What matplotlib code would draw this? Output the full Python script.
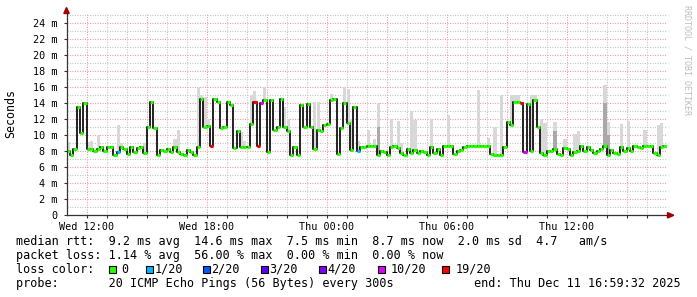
import matplotlib
matplotlib.use('Agg')
import matplotlib.pyplot as plt
from matplotlib.collections import LineCollection
from matplotlib.patches import Rectangle, Polygon

W, H = 697, 297

# ---------------- data ----------------
# median rtt (ms), one value per 10 minutes, starting Wed 11:00
median_ms = [
    8.0, 7.5, 8.3, 13.6, 10.3, 14.0, 8.3, 8.3, 8.1, 8.3,
    8.6, 8.1, 8.6, 8.6, 7.6, 7.9, 8.5, 8.3, 7.7, 8.6,
    7.9, 8.4, 8.6, 7.8, 11.1, 14.2, 10.9, 7.6, 8.2, 8.0,
    8.3, 7.9, 8.5, 7.9, 7.7, 7.5, 8.2, 7.9, 7.5, 8.5,
    14.5, 11.1, 11.2, 8.7, 14.5, 14.2, 10.9, 11.1, 14.2, 13.8,
    8.4, 10.5, 8.6, 8.6, 8.6, 11.4, 14.2, 8.7, 14.1, 14.4,
    7.9, 14.4, 10.7, 11.0, 14.5, 11.0, 10.5, 7.6, 8.5, 7.6,
    13.8, 11.1, 13.9, 11.1, 8.3, 10.7, 10.6, 11.3, 11.4, 14.4,
    14.5, 7.7, 10.9, 14.0, 11.5, 8.2, 13.6, 8.1, 8.6, 8.6,
    8.7, 8.7, 8.7, 7.6, 8.1, 7.9, 7.5, 8.5, 8.7, 8.4,
    7.8, 7.6, 8.3, 7.8, 8.2, 7.8, 8.1, 7.9, 7.6, 8.5,
    7.8, 8.3, 7.6, 8.7, 8.7, 8.7, 7.7, 8.0, 8.2, 8.5,
    8.7, 8.7, 8.7, 8.7, 8.7, 8.7, 8.7, 7.7, 7.6, 7.5,
    7.6, 8.6, 11.7, 11.3, 14.2, 14.2, 14.0, 7.9, 13.9, 8.0,
    14.4, 11.1, 7.8, 7.6, 8.0, 8.0, 8.3, 7.7, 7.5, 8.4,
    8.3, 7.6, 7.9, 8.0, 8.7, 8.1, 8.5, 8.2, 7.8, 8.1,
    8.3, 8.7, 7.6, 8.2, 7.8, 7.7, 8.5, 8.1, 8.4, 8.0,
    8.7, 8.6, 8.4, 8.7, 8.7, 8.7, 7.8, 7.6, 8.6, 8.7,
]
# top of the light smoke (max ping, ms) where visible: sample index -> value
smoke_max_ms = {
    0: 9.2, 6: 9.2, 7: 9.3, 9: 10.0, 15: 11.3, 16: 9.0, 23: 9.1,
    32: 9.5, 33: 10.7, 39: 16.0, 40: 15.0, 41: 14.8, 42: 12.0,
    52: 10.4, 53: 9.3, 55: 15.0, 56: 15.5, 59: 16.1, 65: 13.6, 66: 12.1,
    74: 14.2, 75: 14.2, 79: 15.2, 83: 16.1, 84: 15.8, 85: 12.1, 87: 9.3,
    90: 10.7, 92: 9.5, 93: 14.0, 97: 12.0, 99: 11.8, 100: 9.0,
    103: 13.0, 104: 11.9, 109: 12.1, 114: 12.5,
    123: 15.7, 126: 9.7, 128: 11.0, 130: 15.1, 133: 15.0, 134: 15.0,
    135: 15.0, 139: 15.0, 140: 15.0, 142: 12.1, 143: 11.6, 146: 11.7,
    149: 9.6, 152: 10.2, 153: 10.6, 161: 16.3, 162: 11.7, 166: 11.4,
    168: 11.8, 173: 10.7, 177: 11.3, 178: 11.5,
}
# darker inner smoke where visible
smoke_dark_ms = {93: 11.0, 146: 10.5, 161: 14.0, 162: 10.0}
# lost pings (out of 20) where not zero
loss_events = {15: 1, 43: 19, 56: 19, 57: 19, 58: 10, 87: 1, 136: 19, 137: 10}

loss_buckets = [0, 1, 2, 3, 4, 10, 19]
loss_labels = ['0', '1/20', '2/20', '3/20', '4/20', '10/20', '19/20']
loss_colors = ['#26ff00', '#00b8ff', '#0059ff', '#5e00ff', '#7e00ff', '#dd00ff', '#ff0000']

xtick_hours = [1, 7, 13, 19, 25]
xtick_labels = ['Wed 12:00', 'Wed 18:00', 'Thu 00:00', 'Thu 06:00', 'Thu 12:00']
ytick_vals = list(range(0, 25, 2))
ytick_labels = ['0'] + ['%d m' % v for v in range(2, 25, 2)]

row_rtt = "median rtt:  9.2 ms avg  14.6 ms max  7.5 ms min  8.7 ms now  2.0 ms sd  4.7   am/s"
row_loss = "packet loss: 1.14 % avg  56.00 % max  0.00 % min  0.00 % now"
row_color = "loss color:"
row_probe = "probe:       20 ICMP Echo Pings (56 Bytes) every 300s"
row_end = "end: Thu Dec 11 16:59:32 2025"

STEP = 1.0 / 6.0  # hours per sample
MONO = 'DejaVu Sans Mono'

# ---------------- figure ----------------
fig = plt.figure(figsize=(W / 100, H / 100), dpi=100)
fig.patch.set_facecolor('white')

def fx(x):
    return x / W

def fy(y):
    return 1 - y / H

ax_left, ax_right, ax_bottom, ax_top = 66.5, 666.5, 215.3, 12.9
ax = fig.add_axes([fx(ax_left), fy(ax_bottom), (ax_right - ax_left) / W, (ax_bottom - ax_top) / H])
ax.set_xlim(0, 30)
ax.set_ylim(0, 25.3)
ax.set_facecolor('white')

# grid
ax.set_yticks(ytick_vals)
ax.set_yticklabels(ytick_labels, family=MONO, fontsize=7.3)
ax.set_yticks(list(range(1, 26, 2)), minor=True)
maj_x = list(range(1, 30, 3))
ax.set_xticks(maj_x)
ax.set_xticklabels([xtick_labels[xtick_hours.index(h)] if h in xtick_hours else '' for h in maj_x],
                   family=MONO, fontsize=7.3)
ax.set_xticks([h for h in range(1, 30) if h not in maj_x], minor=True)
dot = (0, (1, 1.4))
ax.grid(which='major', color='#f09a9a', linestyle=dot, linewidth=0.75, zorder=0)
ax.grid(which='minor', color='#c4c4c4', linestyle=dot, linewidth=0.75, zorder=0)
ax.set_axisbelow(True)
ax.tick_params(which='both', length=2, width=0.8, color='#333333', pad=2.5)
ax.tick_params(axis='y', which='both', pad=4.5)
ax.tick_params(axis='y', which='minor', length=0)
ax.tick_params(axis='x', which='minor', length=2)

for s in ['top', 'right']:
    ax.spines[s].set_visible(False)
for s in ['left', 'bottom']:
    ax.spines[s].set_color('#333333')
    ax.spines[s].set_linewidth(0.9)
    ax.spines[s].set_zorder(5)

# smoke
n = len(median_ms)
t = [i * STEP for i in range(n)]
for i, top in smoke_max_ms.items():
    if top > median_ms[i]:
        ax.bar(t[i], top - median_ms[i], bottom=median_ms[i], width=STEP, align='edge',
               color='#d8d8d8', linewidth=0, zorder=1)
for i, top in smoke_dark_ms.items():
    if top > median_ms[i]:
        ax.bar(t[i], top - median_ms[i], bottom=median_ms[i], width=STEP, align='edge',
               color='#a9a9a9', linewidth=0, zorder=1.5)

# median step line
tx = t + [n * STEP]
ty = median_ms + [median_ms[-1]]
ax.step(tx, ty, where='post', color='#111111', linewidth=1.3, zorder=2)

# loss coloured segments
def loss_color(k):
    c = loss_colors[0]
    for b, col in zip(loss_buckets, loss_colors):
        if k >= b:
            c = col
    return c

segs, cols = [], []
for i in range(n):
    segs.append([(t[i], median_ms[i]), (t[i] + STEP, median_ms[i])])
    cols.append(loss_color(loss_events.get(i, 0)))
ax.add_collection(LineCollection(segs, colors=cols, linewidths=2.3, capstyle='butt', zorder=3))

# axis arrows
arrow_col = '#a00000'
fig.patches.append(Polygon([(fx(63.8), fy(13.5)), (fx(69.2), fy(13.5)), (fx(66.5), fy(7.5))],
                           closed=True, transform=fig.transFigure, color=arrow_col, zorder=6))
fig.patches.append(Polygon([(fx(667.5), fy(212.6)), (fx(667.5), fy(218.0)), (fx(673.8), fy(215.3))],
                           closed=True, transform=fig.transFigure, color=arrow_col, zorder=6))
fig.lines.append(plt.Line2D([fx(666.5), fx(668)], [fy(215.3), fy(215.3)], transform=fig.transFigure,
                            color='#333333', linewidth=0.9))

# labels
fig.text(fx(10.5), fy(113.5), 'Seconds', family=MONO, fontsize=8.4, rotation=90,
         ha='center', va='center')
fig.text(fx(687), fy(60), 'RRDTOOL / TOBI OETIKER', family=MONO, fontsize=6.0, rotation=270,
         ha='center', va='center', color='#bdbdbd')

# legend rows
LEG = 8.5
fig.text(fx(16), fy(241), row_rtt, family=MONO, fontsize=LEG, ha='left', va='center')
fig.text(fx(16), fy(255), row_loss, family=MONO, fontsize=LEG, ha='left', va='center')
fig.text(fx(16), fy(269.3), row_color, family=MONO, fontsize=LEG, ha='left', va='center')
fig.text(fx(16), fy(283.3), row_probe, family=MONO, fontsize=LEG, ha='left', va='center')
fig.text(fx(681), fy(283.3), row_end, family=MONO, fontsize=LEG, ha='right', va='center')

sq_x = [109, 146, 202.7, 261, 319, 377.7, 442.3]
lab_x = [121.5, 154.5, 211.5, 269.5, 327.5, 391, 456]
for sx, lx, lab, col in zip(sq_x, lab_x, loss_labels, loss_colors):
    fig.patches.append(Rectangle((fx(sx), fy(272.8)), 7 / W, 7 / H, transform=fig.transFigure,
                                 facecolor=col, edgecolor='black', linewidth=0.8))
    fig.text(fx(lx), fy(269.3), lab, family=MONO, fontsize=LEG, ha='left', va='center')

fig.savefig('out.png', dpi=100, facecolor='white')
